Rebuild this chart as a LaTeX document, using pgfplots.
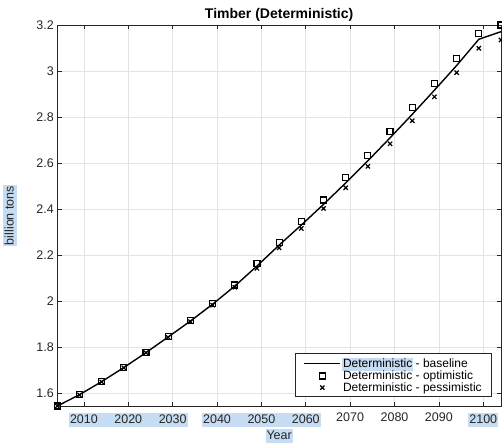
\documentclass[border=0pt]{standalone}
\usepackage{fontspec}
\setmainfont{Liberation Sans}
\usepackage{pgfplots}
\usepackage{pgfplotstable}
\pgfplotsset{compat=1.18}

\definecolor{hlblue}{RGB}{197,220,242}
\definecolor{axgray}{gray}{0.15}
\definecolor{gridgray}{gray}{0.89}

% selection-style highlight behind a label: #1 left overhang, #2 bar width, #3 text
\newcommand\hlbox[3]{\setbox0=\hbox{#3}%
  \hbox{\hskip-#1\textcolor{hlblue}{\rule[-3.4pt]{#2}{13.6pt}}\hskip-\dimexpr#2-#1\relax\box0}}
\newcommand\hlE[1]{\hlbox{1pt}{\dimexpr\wd0+2pt\relax}{#1}}
\newcommand\hlM[1]{\hlbox{1pt}{45pt}{#1}}

\pgfplotstableread{
year base opt pes
2004 1.545 1.545 1.545
2009 1.594 1.595 1.593
2014 1.651 1.652 1.650
2019 1.712 1.713 1.711
2024 1.777 1.778 1.776
2029 1.845 1.847 1.843
2034 1.914 1.917 1.911
2039 1.987 1.991 1.983
2044 2.066 2.071 2.061
2049 2.153 2.164 2.143
2054 2.244 2.256 2.232
2059 2.331 2.347 2.316
2064 2.421 2.440 2.403
2069 2.514 2.536 2.493
2074 2.610 2.634 2.586
2079 2.710 2.736 2.684
2084 2.812 2.840 2.784
2089 2.917 2.946 2.888
2094 3.024 3.055 2.993
2099 3.138 3.162 3.099
2104 3.171 3.200 3.135
}\timber

\begin{document}
\begin{tikzpicture}
\begin{axis}[
  scale only axis,
  width=443.7pt, height=381pt,
  xmin=2004, xmax=2104,
  ymin=1.545, ymax=3.2,
  clip=false,
  xtick={2010,2020,...,2100},
  xticklabels={\hlM{2010},\hlM{2020},\hlE{2030},\hlM{2040},\hlM{2050},\hlE{2060},2070,2080,2090,\hlE{2100}},
  ytick={1.6,1.8,...,3.21},
  /pgf/number format/assume math mode=true,
  ticklabel style={font=\fontsize{12.5}{14}\selectfont, text=axgray},
  xticklabel style={yshift=-3.5pt},
  tick align=inside,
  major tick length=4.5pt,
  tick style={axgray, line width=0.6pt},
  axis line style={axgray, line width=0.6pt},
  grid=major,
  major grid style={gridgray, line width=0.7pt},
  title={\textbf{Timber (Deterministic)}},
  title style={font=\fontsize{14}{16}\selectfont, at={(axis description cs:0.5,1)}, anchor=south, yshift=-6pt},
  xlabel={\hlE{Year}},
  xlabel style={font=\fontsize{12.5}{14}\selectfont, text=axgray, at={(axis description cs:0.5,0)}, anchor=center, yshift=-30pt},
  ylabel={\hlE{billion tons}},
  ylabel style={font=\fontsize{12.5}{14}\selectfont, text=axgray, at={(axis description cs:0,0.5)}, anchor=center, yshift=47pt},
  legend style={at={(axis description cs:1,0)}, anchor=south east, xshift=-9pt, yshift=9pt,
    draw=axgray, fill=white, line width=0.6pt, font=\fontsize{12}{13}\selectfont,
    inner xsep=8pt, inner ysep=2pt, row sep=-2.5pt},
  legend cell align=left,
  legend image code/.code={\draw[mark repeat=2,mark phase=2,#1] plot coordinates {(0pt,0pt) (18pt,0pt) (36pt,0pt)};},
]
\addplot[black, line width=1.4pt] table[x=year, y=base] {\timber};
\addplot[only marks, mark=square, mark size=3pt, mark options={black, line width=1.2pt}] table[x=year, y=opt] {\timber};
\addplot[only marks, mark=x, mark size=3pt, mark options={black, line width=1.2pt}] table[x=year, y=pes] {\timber};
\legend{\hlE{Deterministic} - baseline, Deterministic - optimistic, Deterministic - pessimistic}
\end{axis}
\pgfresetboundingbox
\path[use as bounding box] ([xshift=-57.3pt,yshift=-38pt]current axis.south west) rectangle ([xshift=1pt,yshift=25pt]current axis.north east);
\end{tikzpicture}
\end{document}
